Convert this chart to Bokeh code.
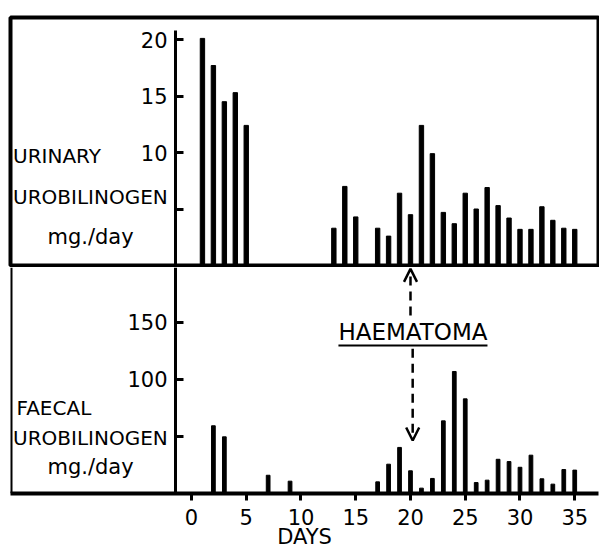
from bokeh.plotting import figure
from bokeh.layouts import column
from bokeh.models import Range1d, FixedTicker, Label, Span, Arrow, OpenHead
from bokeh.embed import file_html
from bokeh.resources import INLINE

# ---------------- data ----------------
urinary_days = [1, 2, 3, 4, 5, 13, 14, 15, 17, 18, 19, 20, 21, 22, 23, 24, 25,
                26, 27, 28, 29, 30, 31, 32, 33, 34, 35]
urinary_mg = [20.1, 17.7, 14.5, 15.3, 12.4, 3.3, 7.0, 4.3, 3.3, 2.6, 6.4, 4.5,
              12.4, 9.9, 4.7, 3.7, 6.4, 5.0, 6.9, 5.3, 4.2, 3.2, 3.2, 5.2, 4.0,
              3.3, 3.2]
faecal_days = [2, 3, 7, 9, 17, 18, 19, 20, 21, 22, 23, 24, 25, 26, 27, 28, 29,
               30, 31, 32, 33, 34, 35]
faecal_mg = [59.4, 49.7, 16.0, 10.8, 10.2, 25.7, 40.4, 19.9, 4.7, 13.2, 63.7,
             107.0, 83.0, 9.6, 11.7, 30.0, 28.0, 23.0, 33.6, 12.9, 8.2, 21.0, 20.5]

day_ticks = [0, 5, 10, 15, 20, 25, 30, 35]
urinary_ticks = [5, 10, 15, 20]
urinary_tick_labels = {5: "", 10: "10", 15: "15", 20: "20"}
faecal_ticks = [50, 100, 150]
faecal_tick_labels = {50: "", 100: "100", 150: "150"}

x_title = "DAYS"
urinary_title = ["URINARY", "UROBILINOGEN", "mg./day"]
faecal_title = ["FAECAL", "UROBILINOGEN", "mg./day"]
event_text = "HAEMATOMA"
event_day = 20

# ---------------- styling / layout constants ----------------
FONT = "DejaVu Sans"
X_START, X_END = -16.53, 37.17
AXIS_AT = -1.46
FRAME_W = 588

xr = Range1d(X_START, X_END)

# ---------------- top panel: urinary ----------------
top = figure(frame_width=FRAME_W, frame_height=248, min_border_left=10,
             min_border_right=1, min_border_top=17, min_border_bottom=2,
             x_range=xr, y_range=Range1d(0, 21.95), x_axis_location=None,
             output_backend="svg", toolbar_location=None)
top.grid.visible = False
top.outline_line_color = "black"
top.outline_line_width = 4
top.outline_line_alpha = 1.0
top.background_fill_color = "white"
top.border_fill_color = "white"

ya = top.yaxis[0]
ya.fixed_location = AXIS_AT
ya.ticker = FixedTicker(ticks=urinary_ticks)
ya.major_label_overrides = urinary_tick_labels
ya.bounds = (0, 20.8)
ya.axis_line_width = 3
ya.major_tick_in = 8
ya.major_tick_out = 0
ya.major_tick_line_width = 3
ya.minor_tick_line_color = None
ya.major_label_standoff = 8
ya.major_label_text_font = FONT
ya.major_label_text_font_size = "21px"
ya.major_label_text_color = "black"

top.vbar(x=urinary_days, top=urinary_mg, bottom=0, width=0.4,
         fill_color="black", line_color="black")

for txt, yy, xx, al, fs in [(urinary_title[0], 9.73, -16.3, "left", "20px"),
                            (urinary_title[1], 6.1, -16.3, "left", "20px"),
                            (urinary_title[2], 2.48, -9.22, "center", "21px")]:
    top.add_layout(Label(x=xx, y=yy, text=txt, text_font=FONT,
                         text_font_size=fs, text_align=al,
                         text_baseline="middle", text_color="black"))

# ---------------- bottom panel: faecal ----------------
bot = figure(frame_width=FRAME_W, frame_height=226, min_border_left=10,
             min_border_right=1, min_border_top=0, min_border_bottom=0,
             x_range=xr, y_range=Range1d(0, 198.2),
             output_backend="svg", toolbar_location=None)
bot.grid.visible = False
bot.outline_line_color = None
bot.background_fill_color = "white"
bot.border_fill_color = "white"

yb = bot.yaxis[0]
yb.fixed_location = AXIS_AT
yb.ticker = FixedTicker(ticks=faecal_ticks)
yb.major_label_overrides = faecal_tick_labels
yb.axis_line_width = 3
yb.major_tick_in = 8
yb.major_tick_out = 0
yb.major_tick_line_width = 3
yb.minor_tick_line_color = None
yb.major_label_standoff = 8
yb.major_label_text_font = FONT
yb.major_label_text_font_size = "21px"
yb.major_label_text_color = "black"

xa = bot.xaxis[0]
xa.ticker = FixedTicker(ticks=day_ticks)
xa.axis_line_width = 4
xa.major_tick_in = 0
xa.major_tick_out = 7
xa.major_tick_line_width = 3
xa.minor_tick_line_color = None
xa.major_label_standoff = 8
xa.major_label_text_font = FONT
xa.major_label_text_font_size = "21px"
xa.major_label_text_color = "black"
xa.axis_label = x_title
xa.axis_label_standoff = -3
xa.axis_label_text_font = FONT
xa.axis_label_text_font_size = "21px"
xa.axis_label_text_font_style = "normal"
xa.axis_label_text_color = "black"

bot.add_layout(Span(location=X_START, dimension="height", line_color="black",
                    line_width=4))

bot.vbar(x=faecal_days, top=faecal_mg, bottom=0, width=0.34,
         fill_color="black", line_color="black")

for txt, yy, xx, al, fs in [(faecal_title[0], 74.6, -15.98, "left", "20px"),
                            (faecal_title[1], 49.1, -16.3, "left", "20px"),
                            (faecal_title[2], 23.0, -9.22, "center", "21px")]:
    bot.add_layout(Label(x=xx, y=yy, text=txt, text_font=FONT,
                         text_font_size=fs, text_align=al,
                         text_baseline="middle", text_color="black"))

# HAEMATOMA annotation
bot.add_layout(Label(x=20.23, y=141.7, text=event_text, text_font=FONT,
                     text_font_size="23px", text_align="center",
                     text_baseline="middle", text_color="black"))
bot.segment(x0=[13.42], y0=[129.8], x1=[27.03], y1=[129.8],
            line_color="black", line_width=2)
bot.add_layout(Arrow(x_start=event_day, y_start=156, x_end=event_day, y_end=197,
                     end=OpenHead(size=13, line_width=2.5, line_color="black"),
                     line_width=2.5, line_dash="9 6", line_color="black"))
bot.add_layout(Arrow(x_start=event_day + 0.2, y_start=127, x_end=event_day + 0.2,
                     y_end=46.5,
                     end=OpenHead(size=13, line_width=2.5, line_color="black"),
                     line_width=2.5, line_dash="9 6", line_color="black"))

layout = column(top, bot, spacing=0)
open("out.html", "w").write(file_html(layout, INLINE))
